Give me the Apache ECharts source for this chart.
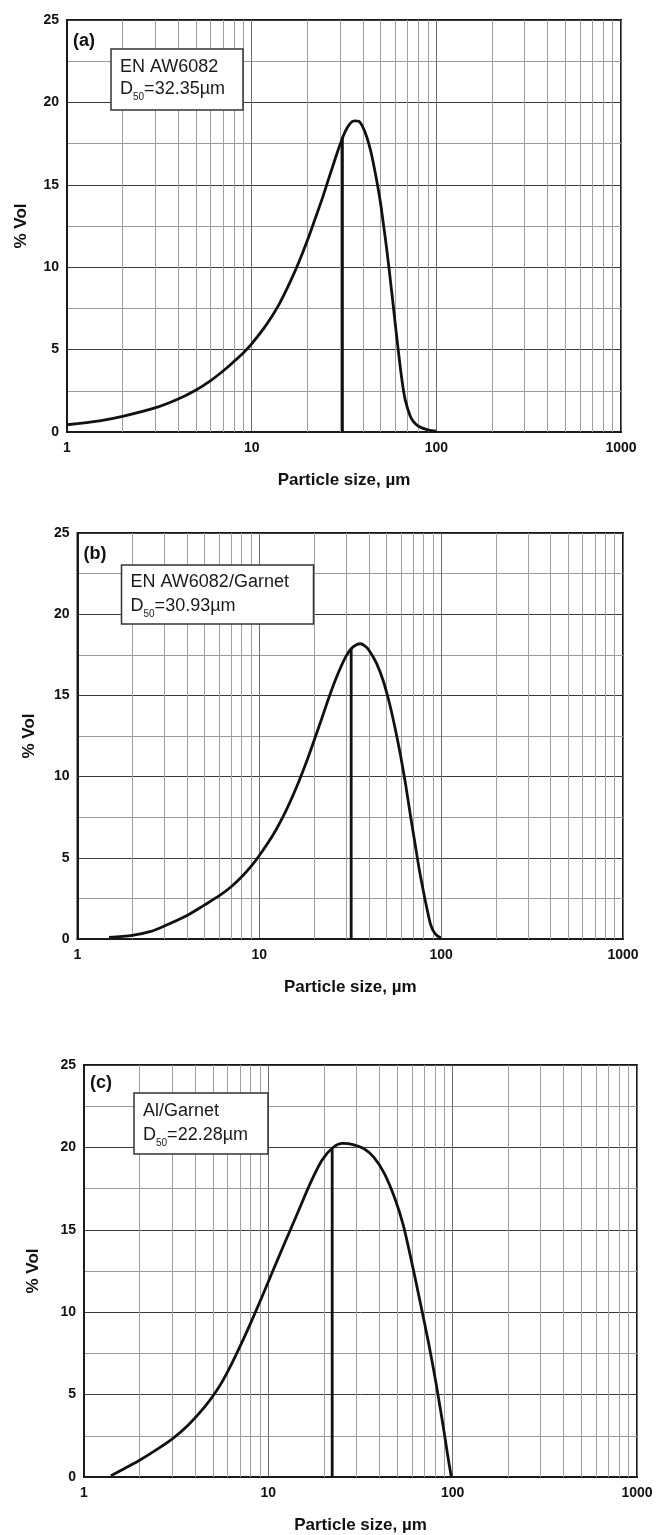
<!DOCTYPE html>
<html>
<head>
<meta charset="utf-8">
<script src="https://cdn.jsdelivr.net/npm/echarts@6/dist/echarts.min.js"></script>
<style>
html,body{margin:0;padding:0;background:#fff;}
#chart{width:656px;height:1535px;}
</style>
</head>
<body>
<div id="chart"></div>
<script>
// ---------- data ----------
const xTicks = [1, 10, 100, 1000];
const yTicks = [0, 5, 10, 15, 20, 25];
const minorX = [2,3,4,5,6,7,8,9,20,30,40,50,60,70,80,90,200,300,400,500,600,700,800,900];

const panelLabels = ['(a)', '(b)', '(c)'];
const materials = ['EN AW6082', 'EN AW6082/Garnet', 'Al/Garnet'];
const d50Labels = ['32.35', '30.93', '22.28'];

// (a) EN AW6082
const sizeA = [1, 1.5, 2, 3, 4, 5, 6, 7, 8, 9, 10, 12, 14, 16, 18, 20, 22, 24, 26, 28, 30, 32, 34, 36, 38, 40, 42, 44, 46, 48, 50, 52, 54, 56, 58, 60, 62, 64, 66, 68, 72, 75, 80, 90, 100];
const volA  = [0.44, 0.68, 0.95, 1.46, 2.0, 2.55, 3.12, 3.7, 4.27, 4.8, 5.35, 6.5, 7.7, 9.0, 10.3, 11.6, 12.9, 14.1, 15.3, 16.4, 17.4, 18.2, 18.7, 18.88, 18.85, 18.5, 17.9, 17.1, 16.1, 15.0, 13.8, 12.4, 11.0, 9.5, 8.0, 6.5, 5.1, 3.8, 2.7, 1.9, 1.0, 0.65, 0.35, 0.13, 0.05];

// (b) EN AW6082/Garnet
const sizeB = [1.49, 2, 2.5, 3, 4, 5, 6, 7, 8, 9, 10, 12, 14, 16, 18, 20, 22, 24, 26, 28, 30, 32, 34, 36, 38, 40, 44, 48, 52, 56, 60, 64, 68, 72, 76, 80, 84, 88, 93, 99.5];
const volB  = [0.1, 0.22, 0.45, 0.8, 1.45, 2.1, 2.65, 3.22, 3.83, 4.47, 5.14, 6.48, 7.89, 9.34, 10.79, 12.22, 13.55, 14.79, 15.86, 16.72, 17.42, 17.87, 18.1, 18.18, 18.05, 17.8, 17.0, 15.9, 14.5, 12.9, 11.2, 9.4, 7.5, 5.8, 4.2, 2.9, 1.75, 0.8, 0.3, 0.06];

// (c) Al/Garnet
const sizeC = [1.4, 1.65, 1.97, 2.43, 2.99, 3.68, 4.54, 5.30, 6.04, 6.88, 8.05, 9.17, 10.45, 12.2, 14.3, 16.7, 19.5, 22.2, 25.3, 28.8, 32.9, 37.4, 42.7, 48.6, 53.9, 59.8, 66.4, 73.8, 81.8, 89.5, 94, 98.2];
const volC  = [0.08, 0.5, 0.97, 1.60, 2.28, 3.16, 4.28, 5.32, 6.43, 7.71, 9.38, 10.85, 12.36, 14.14, 15.93, 17.7, 19.2, 19.95, 20.24, 20.17, 19.93, 19.4, 18.4, 16.9, 15.3, 13.1, 10.7, 8.2, 5.5, 2.85, 1.3, 0.04];

// D50 marker lines as drawn: [x, top value]
const d50LineA = [31.0, 17.9];
const d50LineB = [32.0, 17.9];
const d50LineC = [22.2, 19.9];

// ---------- layout ----------
const FONT = '"Liberation Sans", Arial, Helvetica, sans-serif';
const grids = [
  {left: 67,   top: 20,   width: 554,   height: 412},
  {left: 77.5, top: 533,  width: 545.5, height: 406},
  {left: 84,   top: 1065, width: 553,   height: 412}
];
const boxes = [
  {dx: 44, dy: 29, w: 132, h: 61, l1: 18, l2: 40},
  {dx: 44, dy: 32, w: 192, h: 59, l1: 17, l2: 41},
  {dx: 50, dy: 28, w: 134, h: 61, l1: 18, l2: 42}
];
const panelLabelPos = [{dx: 6, dy: 21}, {dx: 6, dy: 21}, {dx: 6, dy: 18}];
const yNameGap = [37, 40, 42];

const sizes = [sizeA, sizeB, sizeC];
const vols = [volA, volB, volC];
const d50Lines = [d50LineA, d50LineB, d50LineC];

const option = {
  animation: false,
  backgroundColor: '#fff',
  grid: grids.map(g => Object.assign({show: true, borderColor: '#1a1a1a', borderWidth: 2, backgroundColor: 'transparent'}, g)),
  xAxis: grids.map((g, i) => ({
    type: 'log', logBase: 10, gridIndex: i,
    min: xTicks[0], max: xTicks[xTicks.length - 1],
    name: 'Particle size, µm', nameLocation: 'middle', nameGap: 40,
    nameTextStyle: {fontFamily: FONT, fontSize: 17, fontWeight: 'bold', color: '#111'},
    axisLine: {show: true, lineStyle: {color: '#1a1a1a', width: 2}},
    axisTick: {show: false},
    axisLabel: {fontFamily: FONT, fontSize: 14, fontWeight: 'bold', color: '#111', margin: 9,
      formatter: v => String(v)},
    splitLine: {show: true, lineStyle: {color: '#6e6e6e', width: 1}}
  })),
  yAxis: grids.map((g, i) => ({
    type: 'value', gridIndex: i,
    min: yTicks[0], max: yTicks[yTicks.length - 1], interval: yTicks[1] - yTicks[0],
    name: '% Vol', nameLocation: 'middle', nameGap: yNameGap[i], nameRotate: 90,
    nameTextStyle: {fontFamily: FONT, fontSize: 17, fontWeight: 'bold', color: '#111'},
    axisLine: {show: true, lineStyle: {color: '#1a1a1a', width: 2}},
    axisTick: {show: false},
    axisLabel: {fontFamily: FONT, fontSize: 14, fontWeight: 'bold', color: '#111', margin: 8},
    splitLine: {show: true, lineStyle: {color: '#3a3a3a', width: 1}},
    minorTick: {show: false, splitNumber: 2},
    minorSplitLine: {show: true, lineStyle: {color: '#9a9a9a', width: 1}}
  })),
  series: [],
  graphic: []
};

grids.forEach((g, i) => {
  // minor vertical grid lines (log decades)
  option.series.push({
    type: 'line', xAxisIndex: i, yAxisIndex: i, z: 1,
    data: [[xTicks[0], yTicks[0]]], showSymbol: false, lineStyle: {opacity: 0},
    markLine: {
      silent: true, symbol: ['none', 'none'], label: {show: false},
      lineStyle: {color: '#a0a0a0', width: 1, type: 'solid'},
      data: minorX.map(v => ({xAxis: v}))
    }
  });
  // distribution curve
  option.series.push({
    type: 'line', xAxisIndex: i, yAxisIndex: i, z: 5,
    data: sizes[i].map((s, k) => [s, vols[i][k]]),
    smooth: 0.3, showSymbol: false,
    lineStyle: {color: '#111', width: 2.8}
  });
  // D50 vertical line
  option.series.push({
    type: 'line', xAxisIndex: i, yAxisIndex: i, z: 5,
    data: [[d50Lines[i][0], 0], [d50Lines[i][0], d50Lines[i][1]]],
    showSymbol: false,
    lineStyle: {color: '#111', width: 2.8}
  });

  const b = boxes[i];
  const bx = g.left + b.dx, by = g.top + b.dy;
  option.graphic.push({
    type: 'rect', z: 100, silent: true,
    shape: {x: bx, y: by, width: b.w, height: b.h},
    style: {fill: '#fff', stroke: '#333', lineWidth: 1.5}
  });
  option.graphic.push({
    type: 'text', z: 101, silent: true, x: bx + 9, y: by + b.l1,
    style: {text: materials[i], font: '18px ' + FONT, fill: '#1a1a1a', verticalAlign: 'middle', align: 'left'}
  });
  option.graphic.push({
    type: 'text', z: 101, silent: true, x: bx + 9, y: by + b.l2,
    style: {
      text: '{n|D}{s|50}{n|=' + d50Labels[i] + 'µm}',
      verticalAlign: 'middle', align: 'left',
      rich: {
        n: {fontFamily: FONT, fontSize: 18, fill: '#1a1a1a', color: '#1a1a1a', verticalAlign: 'middle'},
        s: {fontFamily: FONT, fontSize: 10, fill: '#1a1a1a', color: '#1a1a1a', padding: [16, 0, 0, 0], verticalAlign: 'middle'}
      }
    }
  });
  option.graphic.push({
    type: 'text', z: 101, silent: true,
    x: g.left + panelLabelPos[i].dx, y: g.top + panelLabelPos[i].dy,
    style: {text: panelLabels[i], font: 'bold 18px ' + FONT, fill: '#111', verticalAlign: 'middle', align: 'left'}
  });
});

const chart = echarts.init(document.getElementById('chart'), null, {renderer: 'canvas'});
chart.setOption(option);
</script>
</body>
</html>
